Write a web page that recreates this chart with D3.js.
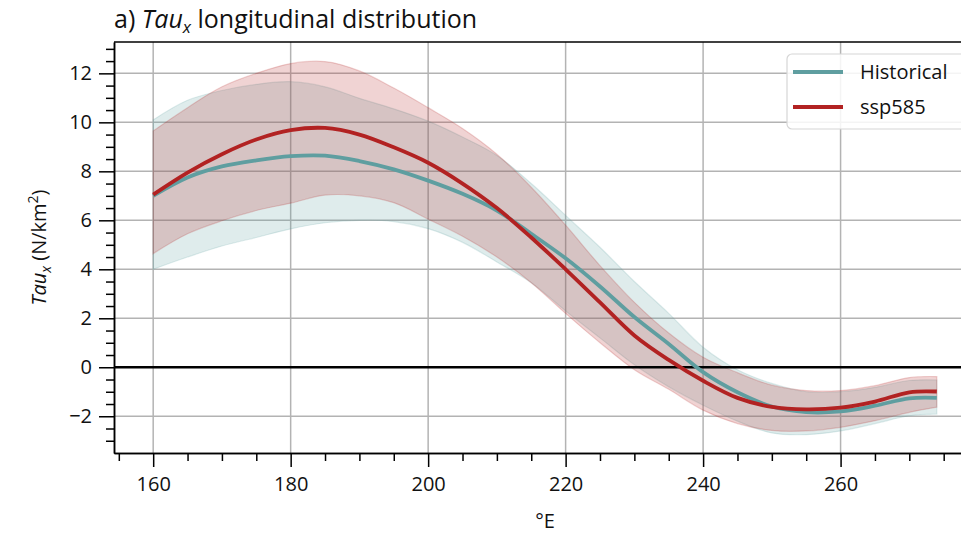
<!DOCTYPE html>
<html>
<head>
<meta charset="utf-8">
<script src="https://cdn.jsdelivr.net/npm/d3@7"></script>
<style>
  html, body { margin: 0; padding: 0; background: #fff; }
  svg { display: block; font-family: "Open Sans", Lato, sans-serif; }
</style>
</head>
<body>
<svg id="chart" width="961" height="533"></svg>
<script>
// ---- data ----
const lon = [160,165,170,175,180,185,190,195,200,205,210,215,220,225,230,235,240,245,250,255,260,265,270,274];
const histMean  = [7.0, 7.75, 8.2, 8.45, 8.62, 8.64, 8.42, 8.08, 7.62, 7.08, 6.4, 5.45, 4.45, 3.3, 2.05, 0.95, -0.2, -1.02, -1.6, -1.83, -1.8, -1.57, -1.27, -1.25];
const histUpper = [10.1, 10.9, 11.3, 11.55, 11.66, 11.45, 10.98, 10.55, 10.05, 9.4, 8.65, 7.5, 6.2, 4.9, 3.5, 2.2, 0.82, -0.1, -0.66, -1.0, -1.0, -0.82, -0.54, -0.52];
const histLower = [4.0, 4.5, 4.95, 5.3, 5.65, 5.9, 6.0, 5.95, 5.66, 5.1, 4.3, 3.45, 2.3, 1.2, 0.1, -0.8, -1.55, -2.2, -2.68, -2.75, -2.6, -2.3, -1.98, -1.91];
const sspMean   = [7.05, 7.95, 8.7, 9.3, 9.68, 9.77, 9.5, 8.98, 8.35, 7.5, 6.5, 5.3, 4.0, 2.65, 1.3, 0.3, -0.55, -1.25, -1.62, -1.72, -1.65, -1.4, -1.02, -0.99];
const sspUpper  = [9.65, 10.6, 11.45, 12.0, 12.4, 12.48, 12.1, 11.4, 10.6, 9.75, 8.7, 7.35, 5.8, 4.15, 2.65, 1.4, 0.41, -0.22, -0.73, -0.95, -0.95, -0.75, -0.42, -0.38];
const sspLower  = [4.64, 5.45, 5.98, 6.4, 6.7, 7.03, 7.0, 6.72, 6.05, 5.35, 4.5, 3.45, 2.2, 1.0, -0.1, -0.9, -1.75, -2.3, -2.58, -2.6, -2.45, -2.18, -1.84, -1.63];

const xTicks = [160, 180, 200, 220, 240, 260];
const yTicks = [-2, 0, 2, 4, 6, 8, 10, 12];
const seriesNames = ["Historical", "ssp585"];
const seriesColors = ["#5f9ea0", "#b22222"];

// ---- layout ----
const svg = d3.select("#chart");
const pL = 114, pR = 976, pT = 42, pB = 453;

const x = d3.scaleLinear().domain([154.3, 279.7]).range([pL, pR]);
const y = d3.scaleLinear().domain([-3.5, 13.28]).range([pB, pT]);

const g = svg.append("g");
const FONT = "'Open Sans', Lato, sans-serif";

// grid
const grid = g.append("g");
xTicks.forEach(t => grid.append("line")
  .attr("x1", x(t)).attr("x2", x(t)).attr("y1", pT).attr("y2", pB)
  .attr("stroke", "#b3b3b3").attr("stroke-width", 1.5));
yTicks.forEach(t => grid.append("line")
  .attr("x1", pL).attr("x2", pR).attr("y1", y(t)).attr("y2", y(t))
  .attr("stroke", "#b3b3b3").attr("stroke-width", 1.5));

// bands
const bands = [
  { up: histUpper, lo: histLower, color: seriesColors[0] },
  { up: sspUpper,  lo: sspLower,  color: seriesColors[1] }
];
const curve = d3.curveCatmullRom.alpha(0.5);
const area = d3.area()
  .x(d => x(d.x)).y0(d => y(d.lo)).y1(d => y(d.up))
  .curve(curve);
bands.forEach(b => {
  const pts = lon.map((v, i) => ({ x: v, up: b.up[i], lo: b.lo[i] }));
  g.append("path").datum(pts).attr("d", area)
    .attr("fill", b.color).attr("fill-opacity", 0.2)
    .attr("stroke", b.color).attr("stroke-opacity", 0.2).attr("stroke-width", 1.2);
});

// zero line
g.append("line").attr("x1", pL).attr("x2", pR).attr("y1", y(0)).attr("y2", y(0))
  .attr("stroke", "#000").attr("stroke-width", 2.5);

// mean lines
const line = d3.line().x(d => x(d.x)).y(d => y(d.v)).curve(curve);
[histMean, sspMean].forEach((arr, k) => {
  const pts = lon.map((v, i) => ({ x: v, v: arr[i] }));
  g.append("path").datum(pts).attr("d", line)
    .attr("fill", "none").attr("stroke", seriesColors[k]).attr("stroke-width", 3.8);
});

// axes
const xAxis = d3.axisBottom(x).tickValues(xTicks).tickSize(14).tickPadding(10).tickSizeOuter(0);
const xMinor = d3.axisBottom(x).tickValues(d3.range(155, 280, 5).filter(v => v % 20 !== 0)).tickSize(8).tickFormat("").tickSizeOuter(0);
const yAxis = d3.axisLeft(y).tickValues(yTicks).tickSize(15).tickPadding(7).tickSizeOuter(0)
  .tickFormat(d => d < 0 ? "\u2212" + Math.abs(d) : d);
const yMinor = d3.axisLeft(y).tickValues(d3.range(-3, 13.01, 0.5).filter(v => v % 2 !== 0)).tickSize(8).tickFormat("").tickSizeOuter(0);

function styleAxis(sel) {
  sel.select(".domain").attr("stroke", "#000").attr("stroke-width", 1.5);
  sel.selectAll(".tick line").attr("stroke", "#000").attr("stroke-width", 1.5);
  sel.selectAll(".tick text").attr("fill", "#111").style("font-size", "20px").style("font-family", FONT);
}
g.append("g").attr("transform", `translate(0,${pB})`).call(xMinor).call(styleAxis);
g.append("g").attr("transform", `translate(0,${pB})`).call(xAxis).call(styleAxis);
g.append("g").attr("transform", `translate(${pL},0)`).call(yMinor).call(styleAxis);
g.append("g").attr("transform", `translate(${pL},0)`).call(yAxis).call(styleAxis);

// top / right spines
g.append("line").attr("x1", pL).attr("x2", pR).attr("y1", pT).attr("y2", pT)
  .attr("stroke", "#000").attr("stroke-width", 1.5);
g.append("line").attr("x1", pR).attr("x2", pR).attr("y1", pT).attr("y2", pB)
  .attr("stroke", "#000").attr("stroke-width", 1.5);

// title
const title = svg.append("text").attr("x", 114).attr("y", 28)
  .style("font-size", "25px").style("font-family", FONT).attr("fill", "#111");
title.append("tspan").text("a) ");
title.append("tspan").style("font-style", "italic").text("Tau");
title.append("tspan").style("font-style", "italic").style("font-size", "17px").attr("dy", 5).text("x");
title.append("tspan").attr("dy", -5).text(" longitudinal distribution");

// x label
svg.append("text").attr("x", (pL + pR) / 2).attr("y", 528).attr("text-anchor", "middle")
  .style("font-size", "20px").style("font-family", FONT).attr("fill", "#111").text("°E");

// y label
const yl = svg.append("text").attr("transform", `translate(46,${(pT + pB) / 2}) rotate(-90)`)
  .attr("text-anchor", "middle").style("font-size", "20px").style("font-family", FONT).attr("fill", "#111");
yl.append("tspan").style("font-style", "italic").text("Tau");
yl.append("tspan").style("font-style", "italic").style("font-size", "14px").attr("dy", 5).text("x");
yl.append("tspan").attr("dy", -5).text(" (N/km");
yl.append("tspan").style("font-size", "14px").attr("dy", -8).text("2");
yl.append("tspan").attr("dy", 8).text(")");

// legend
const lg = svg.append("g");
lg.append("rect").attr("x", 787).attr("y", 54).attr("width", 200).attr("height", 75)
  .attr("rx", 5).attr("fill", "#fff").attr("fill-opacity", 0.85)
  .attr("stroke", "#d6d6d6").attr("stroke-width", 1.2);
seriesNames.forEach((name, i) => {
  const yy = 72 + i * 35;
  lg.append("line").attr("x1", 793).attr("x2", 843).attr("y1", yy).attr("y2", yy)
    .attr("stroke", seriesColors[i]).attr("stroke-width", 3.8);
  lg.append("text").attr("x", 860).attr("y", yy + 7).style("font-size", "20px").style("font-family", FONT)
    .attr("fill", "#111").text(name);
});
</script>
</body>
</html>
